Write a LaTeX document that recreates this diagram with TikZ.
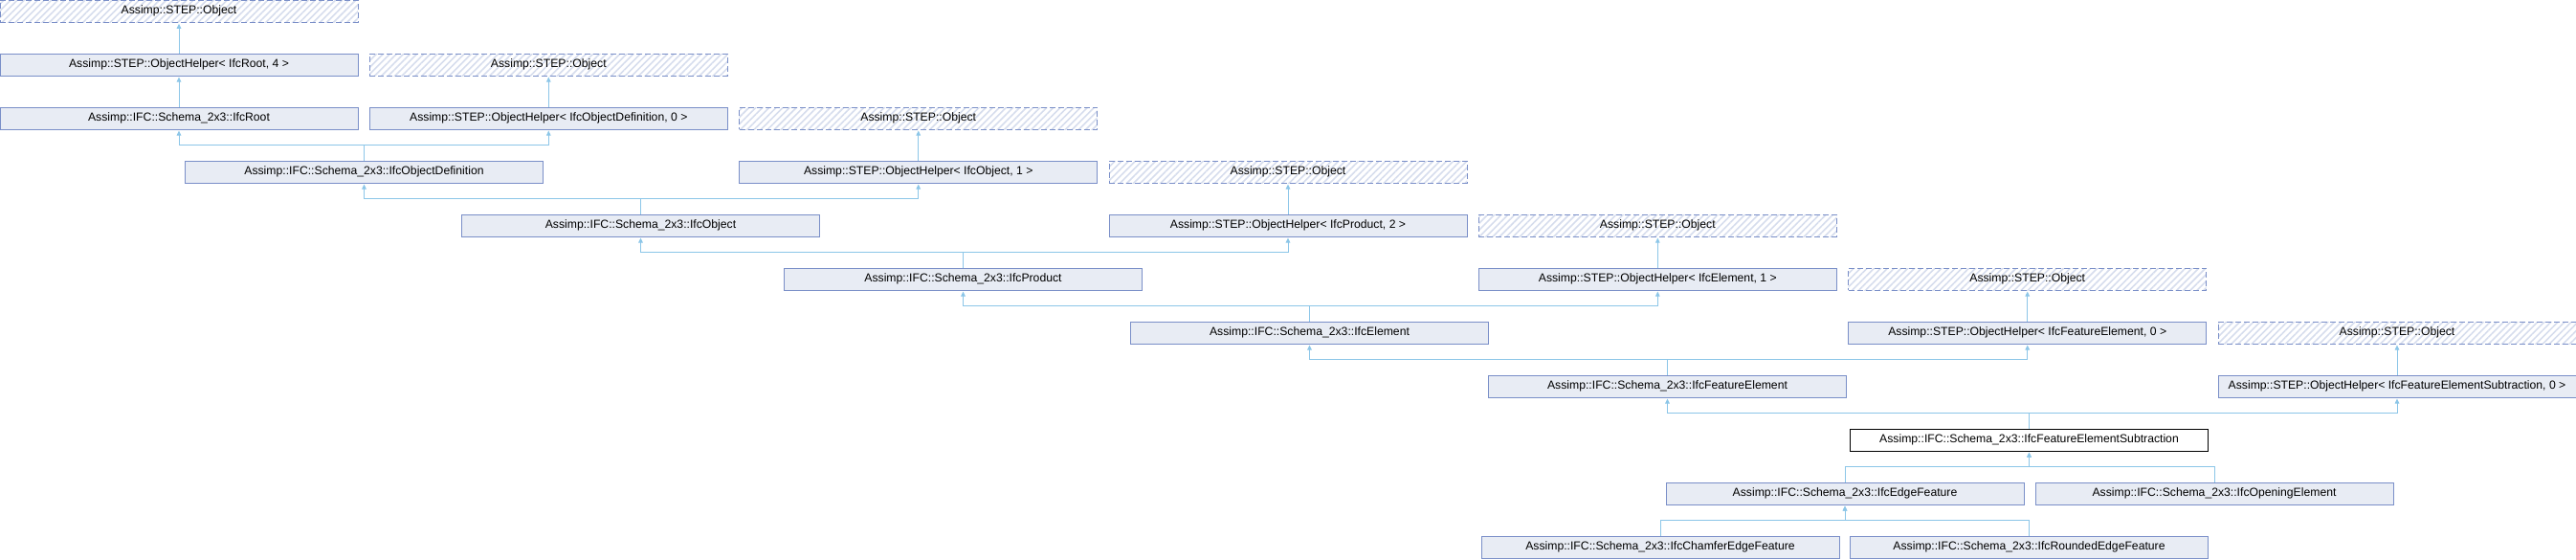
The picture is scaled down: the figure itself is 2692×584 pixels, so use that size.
\documentclass[tikz,border=0pt]{standalone}
\usepackage{fontspec}
\setmainfont{Liberation Sans}
\usetikzlibrary{arrows.meta,patterns.meta}
\definecolor{boxfill}{RGB}{232,236,244}
\definecolor{boxline}{RGB}{122,143,200}
\definecolor{conncol}{RGB}{140,198,232}
\definecolor{hatchcol}{RGB}{214,221,237}
\tikzset{
  cls/.style={draw=boxline, fill=boxfill, line width=1pt, minimum width=374pt, minimum height=23pt, inner sep=0pt, font=\fontsize{12.2}{14}\selectfont},
  ext/.style={draw=boxline, line width=1pt, dash pattern=on 6pt off 3pt, minimum width=374pt, minimum height=23pt, inner sep=0pt, font=\fontsize{12.2}{14}\selectfont, pattern={Lines[angle=45,distance=5pt,line width=1.6pt]}, pattern color=hatchcol},
  cur/.style={draw=black, fill=white, line width=1pt, minimum width=374pt, minimum height=23pt, inner sep=0pt, font=\fontsize{12.2}{14}\selectfont},
  conn/.style={draw=conncol, line width=1pt, -{Triangle[width=4.5pt,length=5pt]}, shorten >=1pt}
}
\begin{document}
\begin{tikzpicture}[x=1pt,y=-1pt]
\useasboundingbox (0,0) rectangle (2692,584);
% row 0
\node[ext] (obja) at (187,11.5) {Assimp::STEP::Object};
% row 1
\node[cls] (ohroot) at (187,67.5) {Assimp::STEP::ObjectHelper< IfcRoot, 4 >};
\node[ext] (objb) at (573.3,67.5) {Assimp::STEP::Object};
% row 2
\node[cls] (root) at (187,123.5) {Assimp::IFC::Schema\_2x3::IfcRoot};
\node[cls] (ohobjdef) at (573.3,123.5) {Assimp::STEP::ObjectHelper< IfcObjectDefinition, 0 >};
\node[ext] (objc) at (959.7,123.5) {Assimp::STEP::Object};
% row 3
\node[cls] (objdef) at (380.5,179.5) {Assimp::IFC::Schema\_2x3::IfcObjectDefinition};
\node[cls] (ohobj) at (959.7,179.5) {Assimp::STEP::ObjectHelper< IfcObject, 1 >};
\node[ext] (objd) at (1346,179.5) {Assimp::STEP::Object};
% row 4
\node[cls] (object) at (669.5,235.5) {Assimp::IFC::Schema\_2x3::IfcObject};
\node[cls] (ohprod) at (1346,235.5) {Assimp::STEP::ObjectHelper< IfcProduct, 2 >};
\node[ext] (obje) at (1732.3,235.5) {Assimp::STEP::Object};
% row 5
\node[cls] (product) at (1006.5,291.5) {Assimp::IFC::Schema\_2x3::IfcProduct};
\node[cls] (ohelem) at (1732.3,291.5) {Assimp::STEP::ObjectHelper< IfcElement, 1 >};
\node[ext] (objf) at (2118.7,291.5) {Assimp::STEP::Object};
% row 6
\node[cls] (element) at (1368.5,347.5) {Assimp::IFC::Schema\_2x3::IfcElement};
\node[cls] (ohfe) at (2118.7,347.5) {Assimp::STEP::ObjectHelper< IfcFeatureElement, 0 >};
\node[ext] (objg) at (2505,347.5) {Assimp::STEP::Object};
% row 7
\node[cls] (fe) at (1742.5,403.5) {Assimp::IFC::Schema\_2x3::IfcFeatureElement};
\node[cls] (ohfes) at (2505,403.5) {Assimp::STEP::ObjectHelper< IfcFeatureElementSubtraction, 0 >};
% row 8
\node[cur] (fes) at (2120.5,459.5) {Assimp::IFC::Schema\_2x3::IfcFeatureElementSubtraction};
% row 9
\node[cls] (edge) at (1928,515.5) {Assimp::IFC::Schema\_2x3::IfcEdgeFeature};
\node[cls] (opening) at (2314,515.5) {Assimp::IFC::Schema\_2x3::IfcOpeningElement};
% row 10
\node[cls] (chamfer) at (1735,571.5) {Assimp::IFC::Schema\_2x3::IfcChamferEdgeFeature};
\node[cls] (rounded) at (2120.5,571.5) {Assimp::IFC::Schema\_2x3::IfcRoundedEdgeFeature};
% connectors
\draw[conn] (ohroot.north) -- (obja.south);
\draw[conn] (root.north) -- (ohroot.south);
\draw[conn] (ohobjdef.north) -- (objb.south);
\draw[conn] (objdef.north) -- ++(0,-16.5) -| (root.south);
\draw[conn] (objdef.north) -- ++(0,-16.5) -| (ohobjdef.south);
\draw[conn] (ohobj.north) -- (objc.south);
\draw[conn] (object.north) -- ++(0,-16.5) -| (objdef.south);
\draw[conn] (object.north) -- ++(0,-16.5) -| (ohobj.south);
\draw[conn] (ohprod.north) -- (objd.south);
\draw[conn] (product.north) -- ++(0,-16.5) -| (object.south);
\draw[conn] (product.north) -- ++(0,-16.5) -| (ohprod.south);
\draw[conn] (ohelem.north) -- (obje.south);
\draw[conn] (element.north) -- ++(0,-16.5) -| (product.south);
\draw[conn] (element.north) -- ++(0,-16.5) -| (ohelem.south);
\draw[conn] (ohfe.north) -- (objf.south);
\draw[conn] (fe.north) -- ++(0,-16.5) -| (element.south);
\draw[conn] (fe.north) -- ++(0,-16.5) -| (ohfe.south);
\draw[conn] (ohfes.north) -- (objg.south);
\draw[conn] (fes.north) -- ++(0,-16.5) -| (fe.south);
\draw[conn] (fes.north) -- ++(0,-16.5) -| (ohfes.south);
\draw[conn] (edge.north) -- ++(0,-16.5) -| (fes.south);
\draw[conn] (opening.north) -- ++(0,-16.5) -| (fes.south);
\draw[conn] (chamfer.north) -- ++(0,-16.5) -| (edge.south);
\draw[conn] (rounded.north) -- ++(0,-16.5) -| (edge.south);
\end{tikzpicture}
\end{document}
